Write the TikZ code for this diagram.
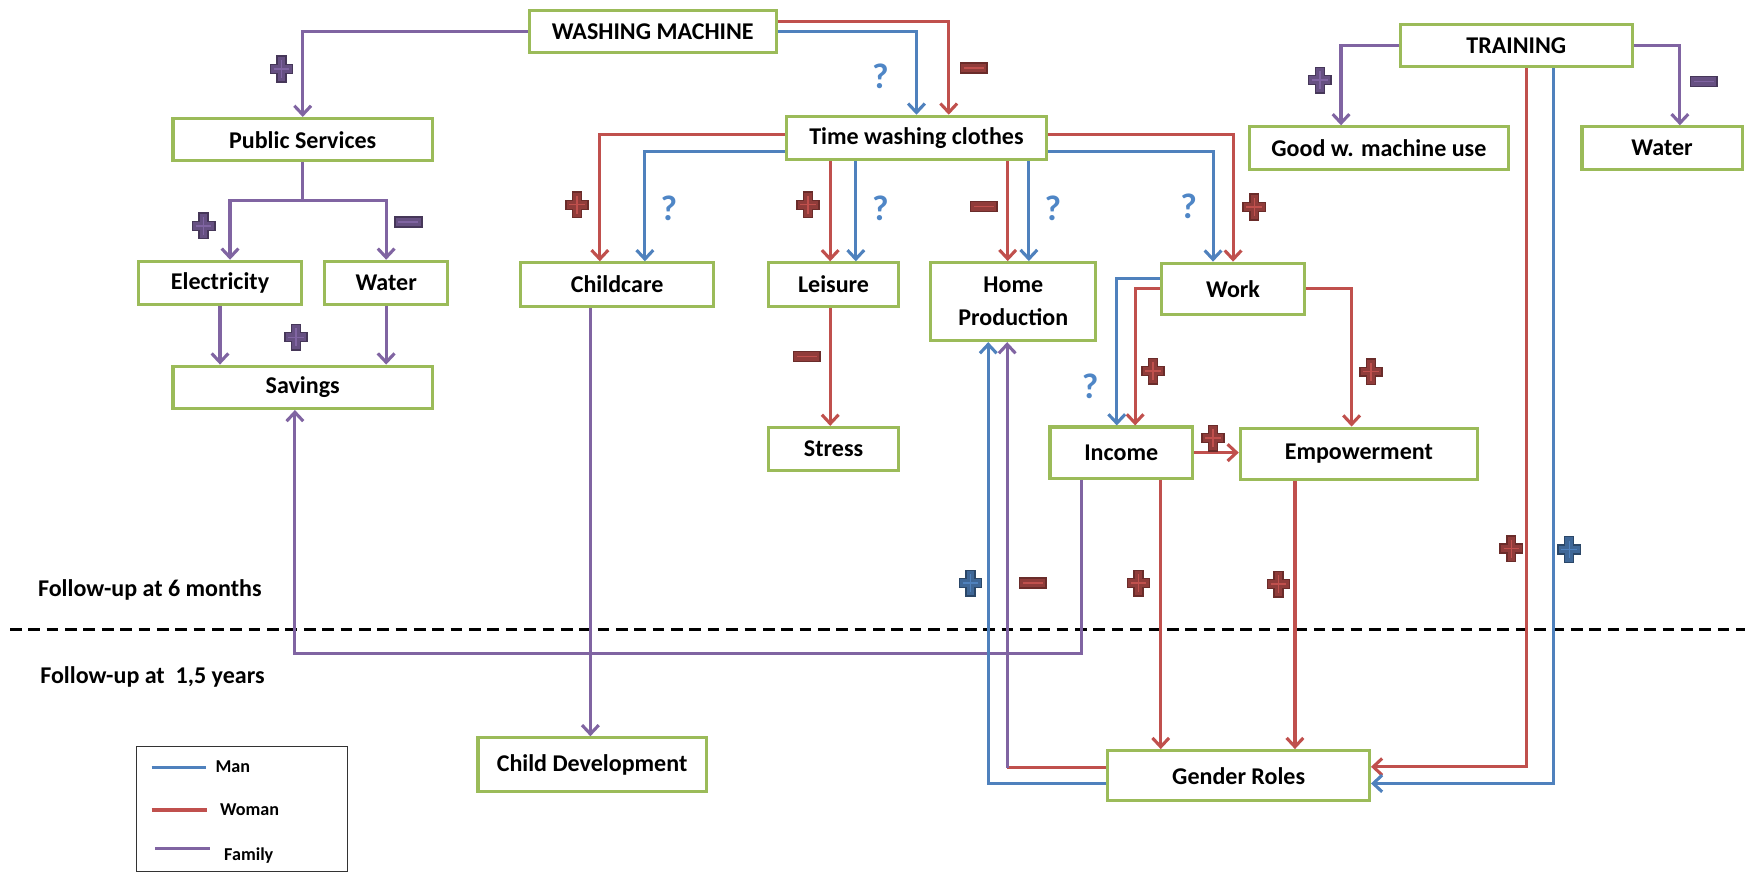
\documentclass[tikz,border=0pt]{standalone}
\usepackage{fontspec}
\setmainfont{Carlito}
\usepackage{tikz}
\usetikzlibrary{calc,arrows.meta}
\definecolor{manblue}{HTML}{4F81BD}
\definecolor{womanred}{HTML}{C0504D}
\definecolor{familyviolet}{HTML}{8064A2}
\definecolor{boxgreen}{HTML}{9BBB59}
\definecolor{qblue}{HTML}{4F86C6}
\newcommand{\boxfont}{\bfseries\fontsize{21.6}{30}\selectfont}
\newcommand{\legfont}{\bfseries\fontsize{16.3}{18}\selectfont}
\newcommand{\signplus}[2]{\filldraw[#2sign,shift={(#1)}] (-4,-11.5) -- (4,-11.5) -- (4,-4) -- (10,-4) -- (10,4) -- (4,4) -- (4,11.5) -- (-4,11.5) -- (-4,4) -- (-10,4) -- (-10,-4) -- (-4,-4) -- cycle;
	\draw[#2signin,shift={(#1)}] (0,-8) -- (0,8) (-7,0) -- (7,0);}
\newcommand{\signminus}[2]{\filldraw[#2sign,shift={(#1)}] (-12,-4.5) rectangle (12,4.5);
	\draw[#2signin,shift={(#1)}] (-9,0) -- (9,0);}
\newcommand{\signq}[2]{\node[qmark] (#1) at (#2) {?};}
\tikzset{
	box/.style={draw=boxgreen, line width=2.8pt, fill=white, inner sep=0pt, align=center, font=\boxfont},
	man/.style={draw=manblue, line width=2.8pt},
	woman/.style={draw=womanred, line width=2.8pt},
	family/.style={draw=familyviolet, line width=2.8pt},
	redsign/.style={fill=womanred!75!black, draw=womanred!55!black, line width=1.3pt},
	redsignin/.style={draw=womanred, line width=1.2pt},
	violetsign/.style={fill=familyviolet!80!black, draw=familyviolet!55!black, line width=1.3pt},
	violetsignin/.style={draw=familyviolet, line width=1.2pt},
	bluesign/.style={fill=manblue!80!black, draw=manblue!55!black, line width=1.3pt},
	bluesignin/.style={draw=manblue, line width=1.2pt},
	qmark/.style={text=qblue, inner sep=0pt, font=\bfseries\fontsize{32}{32}\selectfont},
	>={Straight Barb[length=8pt,width=15pt]}
}
\begin{document}
\begin{tikzpicture}[x=1pt,y=-1pt]
	\useasboundingbox (0,0) rectangle (1568,784);

	\draw[black, line width=3pt, dash pattern=on 10.5pt off 6pt] (9,565.5) -- (1568,565.5);
	\node[anchor=base west, inner sep=0pt, font=\boxfont] (six) at (34,536) {Follow-up at 6 months};
	\node[anchor=base west, inner sep=0pt, font=\boxfont] (year) at (36,614.6) {Follow-up at\ \ 1,5 years};

	\node[box, minimum width=222pt, minimum height=38pt] (wm) at (586.5,28.5) {WASHING MACHINE};
	\node[box, minimum width=234pt, minimum height=39pt] (twc) at (823.5,124) {Time washing clothes};
	\node[box, minimum width=208pt, minimum height=38pt] (train) at (1362.5,41) {TRAINING};
	\node[box, minimum width=233pt, minimum height=38pt] (gwm) at (1239,133) {Good w. machine use};
	\node[box, minimum width=144pt, minimum height=38pt] (waterR) at (1493.5,133) {Water};
	\node[box, minimum width=233pt, minimum height=38pt] (pub) at (272,125.5) {Public Services};
	\node[box, minimum width=147pt, minimum height=39pt] (elec) at (197.7,254.3) {Electricity};
	\node[box, minimum width=111pt, minimum height=39pt] (waterL) at (347,254.3) {Water};
	\node[box, minimum width=233pt, minimum height=38pt] (sav) at (272,348) {Savings};
	\node[box, minimum width=174pt, minimum height=39pt] (child) at (554.5,255.7) {Childcare};
	\node[box, minimum width=117pt, minimum height=39pt] (leis) at (749,255.7) {Leisure};
	\node[box, minimum width=148pt, minimum height=70pt] (home) at (910.5,271) {Home\\Production};
	\node[box, minimum width=129pt, minimum height=46pt] (work) at (1108,259.5) {Work};
	\node[box, minimum width=128pt, minimum height=46pt] (inc) at (1007.5,406.7) {Income};
	\node[box, minimum width=213pt, minimum height=46pt] (emp) at (1221,407.7) {Empowerment};
	\node[box, minimum width=117pt, minimum height=39pt] (stress) at (749,403.6) {Stress};
	\node[box, minimum width=205pt, minimum height=48pt] (cdev) at (532,687) {Child Development};
	\node[box, minimum width=235pt, minimum height=45pt] (gender) at (1113,697) {Gender Roles};

	% washing machine
	\draw[family,->] (wm.west) -| (pub.north);
	\draw[man,->] (wm.east) -| (twc.north);
	\draw[woman,->] ([yshift=9pt]wm.east) -| ([xshift=29pt]twc.north);
	\signplus{253,62}{violet}
	\signq{q1}{791,69}
	\signminus{875,61}{red}

	% time washing clothes
	\draw[woman,->] ([yshift=3pt]twc.west) -| ([xshift=-15.5pt]child.north);
	\draw[man,->] ([yshift=-12pt]twc.west) -| ([xshift=25pt]child.north);
	\coordinate (lr) at ([xshift=-3pt]leis.north);
	\coordinate (lb) at ([xshift=20pt]leis.north);
	\coordinate (hr) at ([xshift=-5pt]home.north);
	\coordinate (hb) at ([xshift=14pt]home.north);
	\draw[woman,->] (twc.south -| lr) -- (lr);
	\draw[man,->] (twc.south -| lb) -- (lb);
	\draw[woman,->] (twc.south -| hr) -- (hr);
	\draw[man,->] (twc.south -| hb) -- (hb);
	\draw[woman,->] ([yshift=3pt]twc.east) -| (work.north);
	\draw[man,->] ([yshift=-12pt]twc.east) -| ([xshift=-18pt]work.north);
	\signplus{518.5,184}{red}
	\signq{q2}{601,187}
	\signplus{726,184}{red}
	\signq{q3}{791,187}
	\signminus{884,185.7}{red}
	\signq{q4}{946,187}
	\signq{q5}{1068,185}
	\signplus{1127,186}{red}

	% training
	\draw[family,->] (train.west) -| ([xshift=-34pt]gwm.north);
	\draw[family,->] (train.east) -| ([xshift=16pt]waterR.north);
	\draw[woman,->] ([xshift=9.3pt]train.south) |- ([yshift=8pt]gender.east);
	\draw[man,->] ([xshift=33.3pt]train.south) |- ([yshift=-7pt]gender.east);
	\signplus{1186,72}{violet}
	\signminus{1531,73}{violet}
	\signplus{1358,493}{red}
	\signplus{1410,493.7}{blue}

	% public services
	\draw[family] (pub.south) -- ++(0,34) coordinate (psplit);
	\draw[family,->] (psplit) -| ([xshift=9pt]elec.north);
	\draw[family,->] (psplit) -| (waterL.north);
	\draw[family,->] (elec.south) -- (elec.south |- sav.north);
	\draw[family,->] (waterL.south) -- (waterL.south |- sav.north);
	\signplus{183,203}{violet}
	\signminus{367,199.5}{violet}
	\signplus{266,303}{violet}

	% childcare, leisure
	\coordinate (cc) at ([xshift=-24pt]child.south);
	\draw[family,->] (cc) -- (cc |- cdev.north);
	\draw[woman,->] ([xshift=-3pt]leis.south) -- ([xshift=-3pt]stress.north);
	\signminus{725,320.5}{red}

	% work, income, empowerment
	\draw[man,->] ([yshift=9pt]work.west) -| ([xshift=-4pt]inc.north);
	\draw[woman,->] (work.west) -| ([xshift=12.5pt]inc.north);
	\draw[woman,->] (work.east) -| ([xshift=-6.5pt]emp.north);
	\draw[woman,->] (inc.east) -- (inc.east -| emp.west);
	\draw[family,->] ([xshift=-36pt]inc.south) -- ++(0,156) -| ([xshift=-7pt]sav.south);
	\coordinate (ig) at ([xshift=35.5pt]inc.south);
	\coordinate (eg) at ([xshift=-57.4pt]emp.south);
	\draw[woman,->] (ig) -- (ig |- gender.north);
	\draw[woman,->] (eg) -- (eg |- gender.north);
	\signq{q6}{979.5,347.5}
	\signplus{1036,333.4}{red}
	\signplus{1232,334}{red}
	\signplus{1090,393.6}{red}
	\signplus{1023,524}{red}
	\signplus{1148.7,524.8}{red}

	% gender roles
	\coordinate (gw) at ([yshift=7pt]gender.west);
	\coordinate (hg) at ([xshift=-5.5pt]home.south);
	\draw[man,->] ([yshift=-7pt]gender.west) -| ([xshift=-22.5pt]home.south);
	\draw[woman] (gw) -- (gw -| hg);
	\draw[family,->] (gw -| hg) -- (hg);
	\signplus{872,524}{blue}
	\signminus{928,524}{red}

	% legend
	\draw[black!80, line width=1pt] (123,671) rectangle (312,783);
	\draw[man] (136.3,689.5) -- (185,689.5);
	\draw[woman] (136.3,727.8) -- (185.7,727.8);
	\draw[family] (139.3,762.3) -- (188.7,762.3);
	\node[anchor=base west, inner sep=0pt, font=\legfont] (lman) at (193.5,693.7) {Man};
	\node[anchor=base west, inner sep=0pt, font=\legfont] (lwoman) at (197.7,733.2) {Woman};
	\node[anchor=base west, inner sep=0pt, font=\legfont] (lfamily) at (201.3,772.8) {Family};
\end{tikzpicture}
\end{document}
